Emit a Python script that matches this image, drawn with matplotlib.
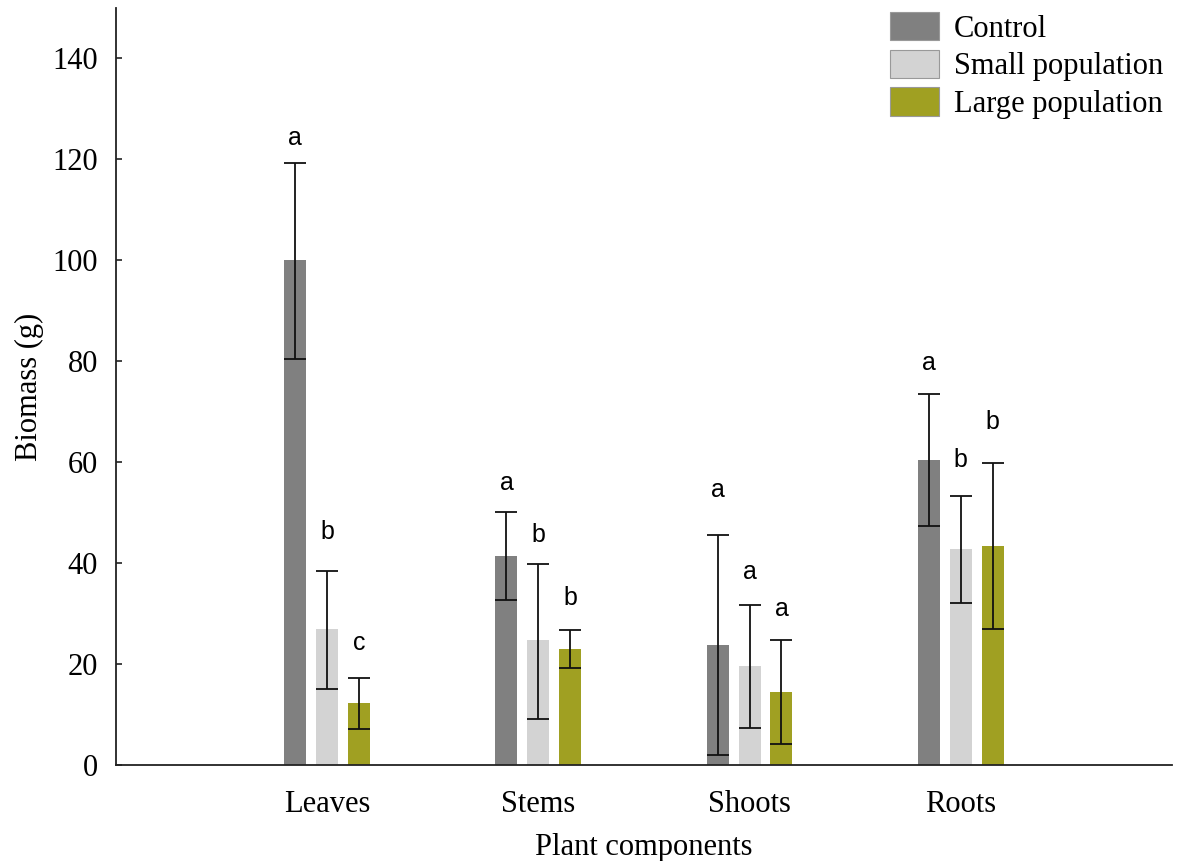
import matplotlib
matplotlib.use('Agg')
import matplotlib.pyplot as plt
import numpy as np

# data
components = ['Leaves', 'Stems', 'Shoots', 'Roots']
groups = ['Control', 'Small population', 'Large population']

control = [100.0, 41.4, 23.8, 60.4]
control_lo = [80.4, 32.7, 2.0, 47.3]
control_hi = [119.2, 50.1, 45.5, 73.5]

small = [26.9, 24.8, 19.6, 42.8]
small_lo = [15.0, 9.2, 7.3, 32.1]
small_hi = [38.4, 39.9, 31.7, 53.3]

large = [12.3, 23.0, 14.5, 43.4]
large_lo = [7.1, 19.2, 4.2, 26.9]
large_hi = [17.3, 26.7, 24.8, 59.9]

# significance letters and their heights
letters = [['a', 'b', 'c'], ['a', 'b', 'b'], ['a', 'a', 'a'], ['a', 'b', 'b']]
letter_y = [[124.2, 46.1, 24.2], [55.8, 45.5, 33.1], [54.5, 38.2, 30.9], [79.6, 60.4, 67.9]]

colors = ['#808080', '#d3d3d3', '#a0a022']

plt.rcParams['font.family'] = ['Liberation Serif', 'DejaVu Serif']

fig = plt.figure(figsize=(11.88, 8.61), dpi=100)
ax = fig.add_axes([0.0976, 0.1115, 0.8889, 0.8792])

x = np.arange(1, len(components) + 1)
width = 0.104
offset = 0.151

series = [(control, control_lo, control_hi),
          (small, small_lo, small_hi),
          (large, large_lo, large_hi)]

for i, (vals, lo, hi) in enumerate(series):
    xs = x + (i - 1) * offset
    vals = np.array(vals)
    yerr = [vals - np.array(lo), np.array(hi) - vals]
    ax.bar(xs, vals, width, color=colors[i], label=groups[i], zorder=2,
           edgecolor='none')
    ax.errorbar(xs, vals, yerr=yerr, fmt='none', ecolor='#111111',
                elinewidth=1.3, capsize=8, capthick=1.3, zorder=3)
    for j in range(len(components)):
        ax.text(xs[j], letter_y[j][i], letters[j][i], ha='center', va='center',
                fontsize=18, family=['Liberation Sans', 'DejaVu Sans'], zorder=4)

ax.set_xlim(0, 5)
ax.set_ylim(0, 150)
ax.set_xticks(x)
ax.set_xticklabels(components)
ax.set_yticks(np.arange(0, 141, 20))
ax.tick_params(axis='both', direction='in', length=4, width=1.2, labelsize=22,
               colors='#222222', labelcolor='black')
ax.tick_params(axis='x', pad=18)
ax.tick_params(axis='y', pad=13)
for s in ['top', 'right']:
    ax.spines[s].set_visible(False)
for s in ['left', 'bottom']:
    ax.spines[s].set_linewidth(1.3)
    ax.spines[s].set_color('#222222')

ax.set_xlabel('Plant components', fontsize=22)
ax.set_ylabel('Biomass (g)', fontsize=22)
ax.xaxis.set_label_coords(0.5, -0.09)
ax.yaxis.set_label_coords(-0.068, 0.5)

leg = ax.legend(loc='upper right', bbox_to_anchor=(1.018, 1.031), frameon=False,
                fontsize=22, handlelength=1.6, handleheight=1.05,
                handletextpad=0.5, labelspacing=0.2)
for h in leg.legend_handles:
    h.set_edgecolor('#999999')
    h.set_linewidth(0.8)

fig.savefig('out.png', dpi=100)
